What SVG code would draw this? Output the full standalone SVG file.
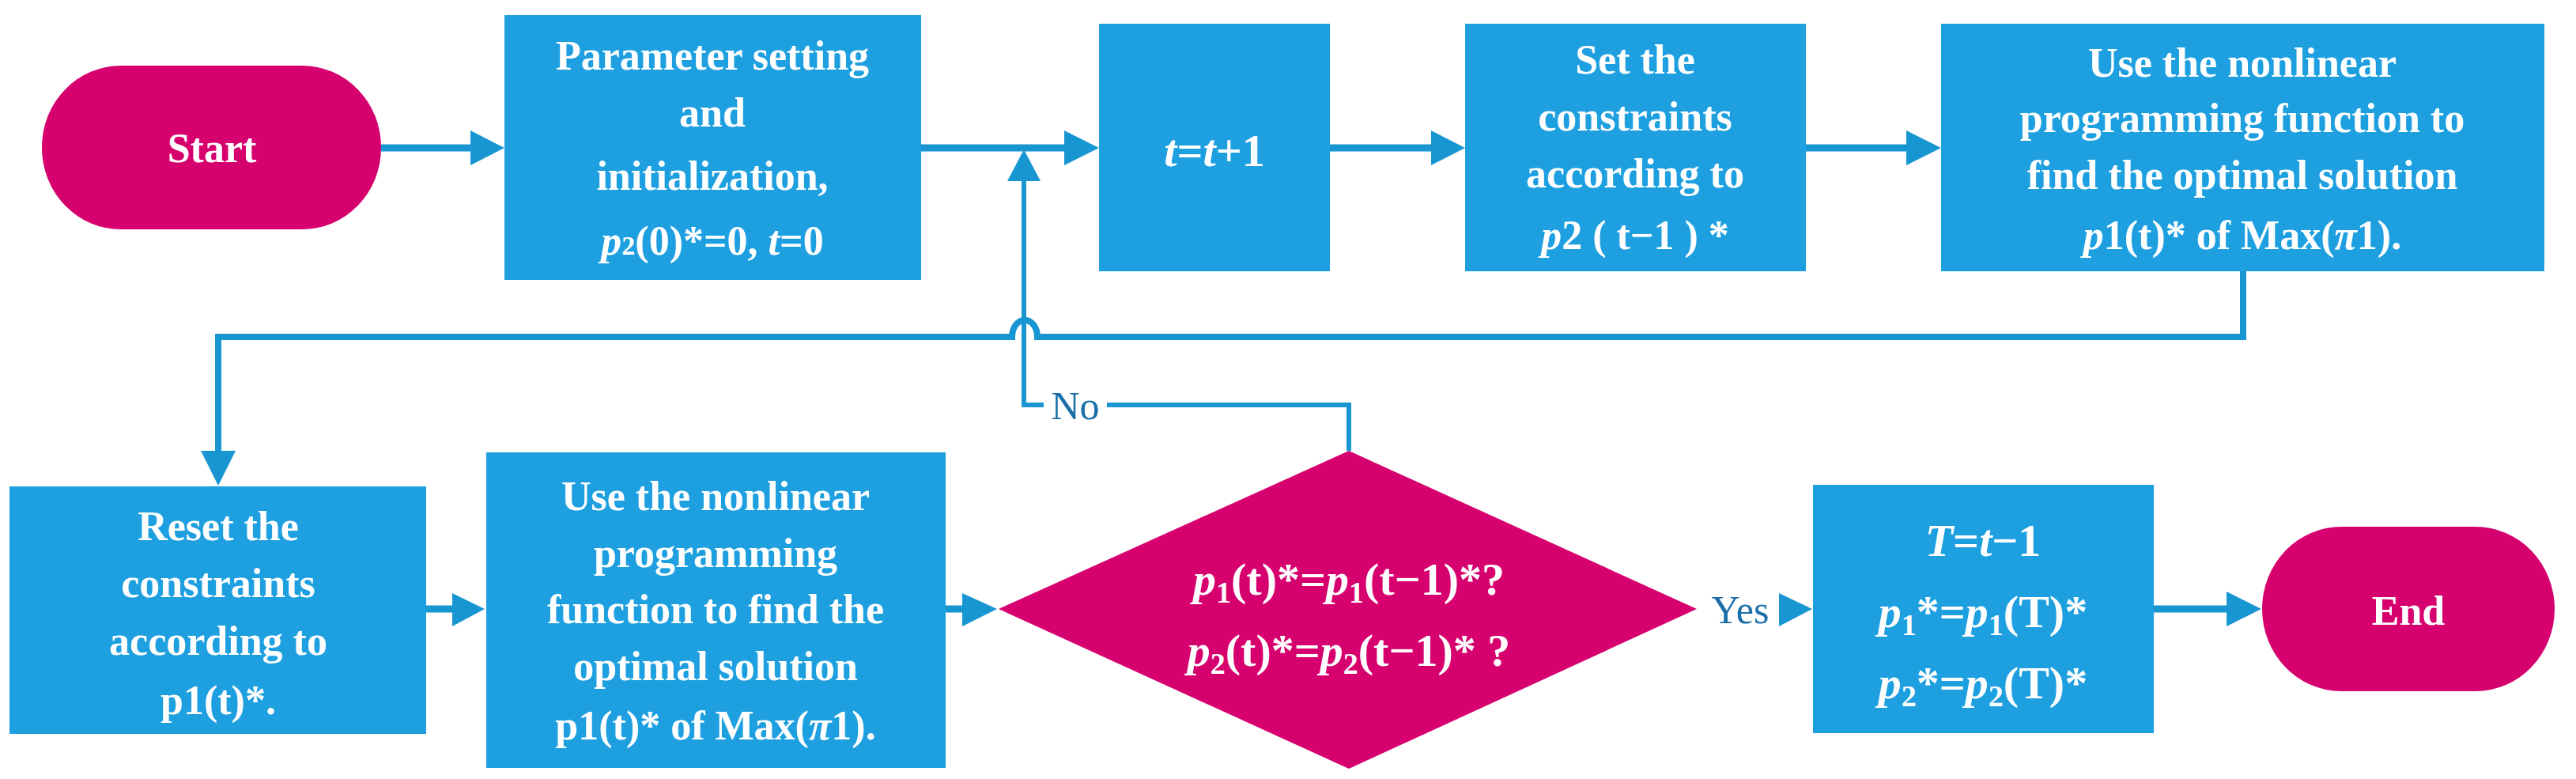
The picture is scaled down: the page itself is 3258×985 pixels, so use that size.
<svg xmlns="http://www.w3.org/2000/svg" width="3258" height="985" viewBox="0 0 3258 985">
<style>
.box{fill:#1ea0e0}
.term{fill:#d6006e}
.t{font-family:"Liberation Serif",serif;font-weight:bold;font-size:52px;fill:#fff;text-anchor:middle}
.big{font-size:58px}
.i{font-style:italic}
.lbl{font-family:"Liberation Serif",serif;font-size:50px;fill:#1a6fa8;text-anchor:middle}
.c{stroke:#1896d2;fill:none}
.h{fill:#1896d2}
</style>
<rect width="3258" height="985" fill="#fff"/>
<g id="connectors">
  <line class="c" x1="482" y1="187" x2="600" y2="187" stroke-width="9"/>
  <polygon class="h" points="595,165 638,187 595,209"/>
  <line class="c" x1="1165" y1="187" x2="1350" y2="187" stroke-width="9"/>
  <polygon class="h" points="1346,165 1390,187 1346,209"/>
  <line class="c" x1="1682" y1="187" x2="1815" y2="187" stroke-width="9"/>
  <polygon class="h" points="1810,165 1853,187 1810,209"/>
  <line class="c" x1="2284" y1="187" x2="2415" y2="187" stroke-width="9"/>
  <polygon class="h" points="2411,165 2455,187 2411,209"/>
  <path class="c" d="M2837,343 V426 H1312 A15,20 0 0 0 1280,426 H276 V575" stroke-width="8"/>
  <polygon class="h" points="254,570 298,570 276,614"/>
  <path class="c" d="M1706,570 V512 H1400 M1320,512 H1295 V225" stroke-width="6"/>
  <polygon class="h" points="1274,229 1316,229 1295,189"/>
  <line class="c" x1="539" y1="770" x2="576" y2="770" stroke-width="9"/>
  <polygon class="h" points="572,750 613,770 572,792"/>
  <line class="c" x1="1196" y1="770" x2="1222" y2="770" stroke-width="9"/>
  <polygon class="h" points="1217,750 1261,770 1217,792"/>
  <polygon class="h" points="2250,750 2292,770 2250,792"/>
  <line class="c" x1="2724" y1="770" x2="2820" y2="770" stroke-width="9"/>
  <polygon class="h" points="2816,748 2860,770 2816,792"/>
  <text class="lbl" x="1360" y="530">No</text>
  <text class="lbl" x="2201" y="788">Yes</text>
</g>
<g id="start"><rect class="term" x="53" y="83" width="429" height="207" rx="100" ry="103"/><text class="t" x="268" y="205">Start</text></g>
<g id="init"><rect class="box" x="638" y="19" width="527" height="335"/>
<text class="t" x="901" y="88">Parameter setting</text>
<text class="t" x="901" y="160">and</text>
<text class="t" x="901" y="240">initialization,</text>
<text class="t" x="901" y="322"><tspan class="i">p</tspan><tspan font-size="34">2</tspan>(0)*=0,  <tspan class="i">t</tspan>=0</text></g>
<g id="tinc"><rect class="box" x="1390" y="30" width="292" height="313"/><text class="t big" x="1536" y="210"><tspan class="i">t</tspan>=<tspan class="i">t</tspan>+1</text></g>
<g id="set"><rect class="box" x="1853" y="30" width="431" height="313"/>
<text class="t" x="2068" y="93">Set the</text>
<text class="t" x="2068" y="165">constraints</text>
<text class="t" x="2068" y="237">according to</text>
<text class="t" x="2068" y="315"><tspan class="i">p</tspan>2 ( t−1 ) *</text></g>
<g id="use1"><rect class="box" x="2455" y="30" width="763" height="313"/>
<text class="t" x="2836" y="97">Use the nonlinear</text>
<text class="t" x="2836" y="167">programming function to</text>
<text class="t" x="2836" y="239">find the optimal solution</text>
<text class="t" x="2836" y="315"><tspan class="i">p</tspan>1(t)* of Max(<tspan class="i">π</tspan>1).</text></g>
<g id="reset"><rect class="box" x="12" y="615" width="527" height="313"/>
<text class="t" x="276" y="683">Reset the</text>
<text class="t" x="276" y="755">constraints</text>
<text class="t" x="276" y="828">according to</text>
<text class="t" x="276" y="903">p1(t)*.</text></g>
<g id="use2"><rect class="box" x="615" y="572" width="581" height="399"/>
<text class="t" x="905" y="645">Use the nonlinear</text>
<text class="t" x="905" y="717">programming</text>
<text class="t" x="905" y="788">function to find the</text>
<text class="t" x="905" y="860">optimal solution</text>
<text class="t" x="905" y="935">p1(t)* of Max(<tspan class="i">π</tspan>1).</text></g>
<g id="check"><polygon class="term" points="1706,570 2146,770 1706,972 1263,770"/>
<text class="t big" x="1706" y="752"><tspan class="i">p</tspan><tspan font-size="38" dy="10">1</tspan><tspan dy="-10">(t)*=</tspan><tspan class="i">p</tspan><tspan font-size="38" dy="10">1</tspan><tspan dy="-10">(t−1)*?</tspan></text>
<text class="t big" x="1706" y="842"><tspan class="i">p</tspan><tspan font-size="38" dy="10">2</tspan><tspan dy="-10">(t)*=</tspan><tspan class="i">p</tspan><tspan font-size="38" dy="10">2</tspan><tspan dy="-10">(t−1)* ?</tspan></text></g>
<g id="result"><rect class="box" x="2293" y="613" width="431" height="314"/>
<text class="t big" x="2508" y="703"><tspan class="i">T</tspan>=<tspan class="i">t</tspan>−1</text>
<text class="t big" x="2508" y="793"><tspan class="i">p</tspan><tspan font-size="38" dy="10">1</tspan><tspan dy="-10">*=</tspan><tspan class="i">p</tspan><tspan font-size="38" dy="10">1</tspan><tspan dy="-10">(T)*</tspan></text>
<text class="t big" x="2508" y="883"><tspan class="i">p</tspan><tspan font-size="38" dy="10">2</tspan><tspan dy="-10">*=</tspan><tspan class="i">p</tspan><tspan font-size="38" dy="10">2</tspan><tspan dy="-10">(T)*</tspan></text></g>
<g id="end"><rect class="term" x="2861" y="666" width="370" height="208" rx="100" ry="104"/><text class="t" x="3046" y="790">End</text></g>
</svg>
